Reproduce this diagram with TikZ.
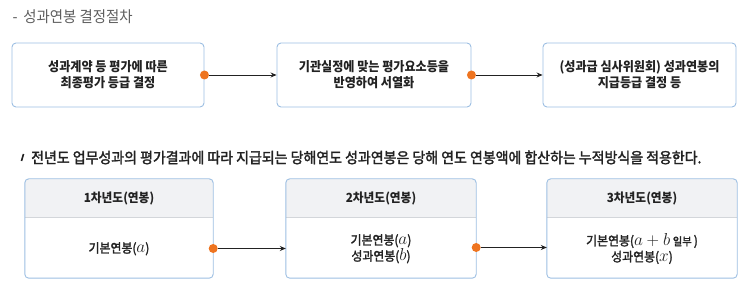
\documentclass[tikz,border=0pt]{standalone}
\usepackage{fontspec}
\setmainfont[FakeStretch=0.93]{Noto Sans CJK KR}
\newfontfamily\krmed[FakeStretch=0.93,FakeBold=2]{Noto Sans CJK KR}
\usetikzlibrary{arrows.meta,calc}
\definecolor{bd}{HTML}{9CBEE2}
\definecolor{org}{HTML}{EE7420}
\definecolor{hd}{HTML}{F1F2F4}
\definecolor{tx}{HTML}{222222}
\definecolor{gr}{HTML}{5E5E5E}
\definecolor{ln}{HTML}{D3D6DA}
\newcommand{\mv}[1]{{\fontsize{18}{18}\selectfont$#1$}}
\begin{document}
\begin{tikzpicture}[x=1pt,y=-1pt,
  topbox/.style={draw=bd, line width=0.9pt, rounded corners=4pt, minimum height=64pt, align=center, text=tx, inner sep=0pt, font=\fontsize{13}{16}\selectfont\bfseries},
  headtxt/.style={text=tx, font=\fontsize{12.6}{15}\selectfont\bfseries},
  bodytxt/.style={text=tx, align=center, font=\fontsize{12.8}{16}\selectfont\krmed},
  dot/.style={circle, fill=org, minimum size=9pt, inner sep=0pt},
  arr/.style={draw=tx, line width=0.8pt, -{Stealth[length=6pt,width=5pt]}}]
\useasboundingbox (0,0) rectangle (750,304);
% title
\node[anchor=west, text=gr, font=\fontsize{15.5}{18}\selectfont] (title) at (9,17) {-\, 성과연봉 결정절차};
% top boxes
\node[topbox, minimum width=192pt] (b1) at (108,75) {성과계약 등 평가에 따른\\최종평가 등급 결정};
\node[topbox, minimum width=194pt] (b2) at (374,75) {기관실정에 맞는 평가요소등을\\반영하여 서열화};
\node[topbox, minimum width=193pt] (b3) at (639.5,75) {(성과급 심사위원회) 성과연봉의\\지급등급 결정 등};
\node[dot] (d1) at (b1.east) {};
\node[dot] (d2) at (b2.east) {};
\draw[arr] (d1) -- (b2.west);
\draw[arr] (d2) -- (b3.west);
% sentence
\draw[tx, line width=1.6pt] (21.5,161) -- (23.5,154);
\node[anchor=west, text=tx, font=\fontsize{15}{18}\selectfont\krmed, inner sep=0pt] (sent) at (31,157.5) {전년도 업무성과의 평가결과에 따라 지급되는 당해연도 성과연봉은 당해 연도 연봉액에 합산하는 누적방식을 적용한다.};
% bottom boxes
\foreach \nm/\cx/\w in {A/119/188, B/381/190, C/642/190}{
  \node[minimum width=\w pt, minimum height=99pt, inner sep=0pt] (\nm) at (\cx,228.5) {};
  \begin{scope}
    \clip[rounded corners=4pt] (\nm.north west) rectangle (\nm.south east);
    \fill[hd] (\nm.north west) rectangle ($(\nm.north east)+(0,39)$);
  \end{scope}
  \draw[ln, line width=0.8pt] ($(\nm.north west)+(0,39)$) -- ($(\nm.north east)+(0,39)$);
  \draw[bd, line width=0.9pt, rounded corners=4pt] (\nm.north west) rectangle (\nm.south east);
}
\node[headtxt] (hA) at ($(A.north)+(0,19.5)$) {1차년도(연봉)};
\node[headtxt] (hB) at ($(B.north)+(0,19.5)$) {2차년도(연봉)};
\node[headtxt] (hC) at ($(C.north)+(0,19.5)$) {3차년도(연봉)};
\node[bodytxt] (tA) at ($(A.south)+(0,-29.5)$) {기본연봉(\mv{a})};
\node[bodytxt] (tB) at ($(B.south)+(0,-29.5)$) {기본연봉(\mv{a})\\성과연봉(\mv{b})};
\node[bodytxt] (tC) at ($(C.south)+(0,-29.5)$) {기본연봉(\mv{a+b} {\fontsize{11}{11}\selectfont 일부}\,)\\성과연봉(\mv{x})};
\node[dot] (dA) at ($(A.east)+(0,20)$) {};
\node[dot] (dB) at ($(B.east)+(0,19)$) {};
\draw[arr] (dA) -- (B.west |- dA);
\draw[arr] (dB) -- (C.west |- dB);
\end{tikzpicture}
\end{document}
